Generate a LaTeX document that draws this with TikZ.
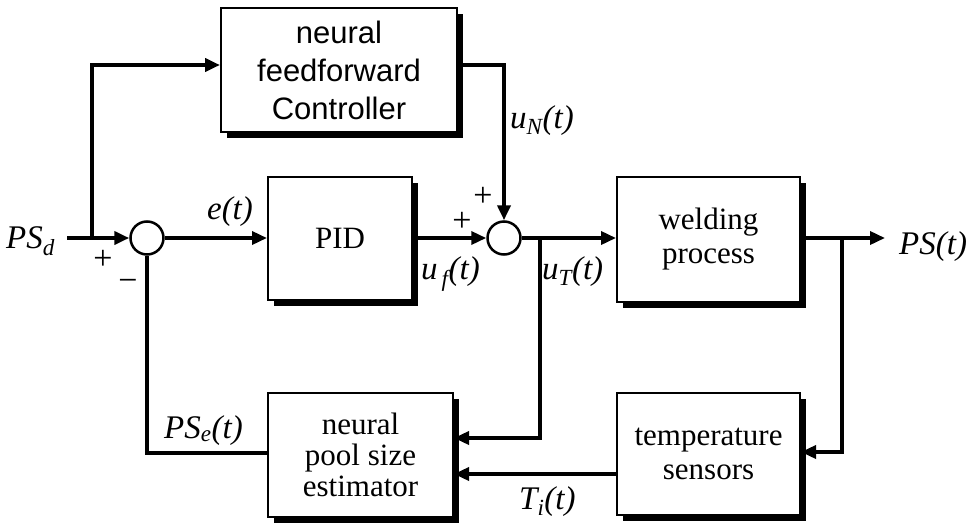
\documentclass[tikz,border=0pt]{standalone}
\usepackage{fontspec}
\setmainfont{Liberation Serif}
\newfontfamily\arialfont{Liberation Sans}
\usetikzlibrary{arrows.meta,shadows,calc}
\begin{document}
\begin{tikzpicture}[x=1pt,y=-1pt,
  blk/.style={draw, line width=2pt, fill=white, align=center, inner sep=0pt,
    font=\fontsize{31}{34}\selectfont,
    drop shadow={shadow xshift=6pt, shadow yshift=-6pt, fill=black, opacity=1}},
  sansblk/.style={font=\arialfont\fontsize{31}{38}\selectfont},
  sumnode/.style={draw, circle, line width=2.5pt, fill=white, minimum size=33pt, inner sep=0pt},
  conn/.style={line width=3.5pt},
  heavy/.style={line width=4.5pt},
  arr/.style={-{Triangle[length=15pt,width=13pt]}},
  lbl/.style={font=\fontsize{33}{33}\selectfont\itshape, inner sep=0pt},
  sgn/.style={font=\fontsize{34}{34}\selectfont, inner sep=0pt}]
\useasboundingbox (0,0) rectangle (973,522);

% blocks
\node[blk, sansblk, minimum width=236pt, minimum height=124pt] (ff) at (339,70) {neural\\feedforward\\Controller};
\node[blk, minimum width=144pt, minimum height=123pt] (pid) at (340,238) {PID};
\node[blk, minimum width=183pt, minimum height=125pt] (weld) at (708.5,239.5) {welding\\process};
\node[blk, minimum width=183pt, minimum height=122pt] (temp) at (708.5,454) {temperature\\sensors};
\node[blk, font=\fontsize{31}{31}\selectfont, minimum width=185pt, minimum height=124pt] (est) at (360.5,455) {neural\\pool size\\estimator};

% summing junctions
\node[sumnode] (s1) at (147,238) {};
\node[sumnode] (s2) at (504,238) {};

% helper coordinates
\coordinate (psd) at (67,238);
\coordinate (br1) at (92,238);
\coordinate (uTb) at (540,238);
\coordinate (br2) at (842,238);
\coordinate (out) at (885,238);

% connectors
\draw[heavy, arr] (psd) -- (s1.west);
\draw[heavy, arr] (br1) |- ([yshift=5pt]ff.west);
\draw[heavy, arr] ([yshift=5pt]ff.east) -| (s2.north);
\draw[conn, arr] (s1.east) -- (pid.west);
\draw[conn, arr] (pid.east) -- (s2.west);
\draw[conn, arr] (s2.east) -- (weld.west |- s2);
\draw[conn, arr] (uTb) |- ([yshift=17pt]est.east);
\draw[conn, arr] (weld.east |- s2) -- (out);
\draw[conn, arr] (br2) |- ([yshift=2pt]temp.east);
\draw[conn, arr] ([yshift=-20pt]temp.west) -- ([yshift=-19pt]est.east);
\draw[heavy] ([yshift=2pt]est.west) -| (s1.south);

% labels
\node[lbl, anchor=base west] (lpsd) at (6,248) {PS\textsubscript{d}};
\node[lbl, anchor=base] (le) at (230,219) {e(t)};
\node[lbl, anchor=base west] (lps) at (899,254) {PS(t)};
\node[lbl, anchor=base west] (lun) at (510,128) {u\textsubscript{N}(t)};
\node[lbl, anchor=base west] (luf) at (421,279) {u\hspace{4pt}\textsubscript{f}(t)};
\node[lbl, anchor=base west] (lut) at (542,279) {u\textsubscript{T}(t)};
\node[lbl, anchor=base west] (lpse) at (164,438) {PS\textsubscript{e}(t)};
\node[lbl, anchor=base west] (lti) at (519,509) {T\textsubscript{i}(t)};

% signs
\node[sgn] (p1) at (103,260) {+};
\node[sgn] (m1) at (128,285) {−};
\node[sgn] (p2) at (462,222) {+};
\node[sgn] (p3) at (483,197) {+};
\end{tikzpicture}
\end{document}
